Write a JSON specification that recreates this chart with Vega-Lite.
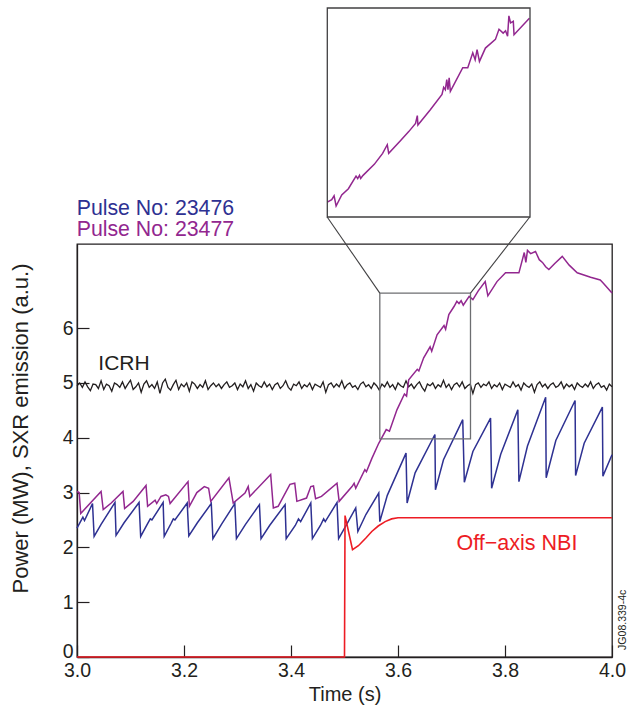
{
  "$schema": "https://vega.github.io/schema/vega-lite/v6.json",
  "width": 535,
  "height": 413,
  "autosize": {"type": "none"},
  "padding": {"left": 77, "top": 244, "right": 31, "bottom": 52},
  "config": {
    "font": "Liberation Sans",
    "view": {"stroke": "#231f20", "strokeWidth": 1.3},
    "axis": {"grid": false, "domainColor": "#231f20", "domainWidth": 1.3, "tickColor": "#231f20", "tickWidth": 1.2, "labelColor": "#231f20", "titleColor": "#231f20"}
  },
  "datasets": {
    "icrh": [
      {"t":3.000,"v":4.95},{"t":3.005,"v":5.00},{"t":3.010,"v":4.92},{"t":3.015,"v":5.02},{"t":3.020,"v":4.93},{"t":3.025,"v":4.86},{"t":3.030,"v":4.98},{"t":3.035,"v":4.97},{"t":3.040,"v":4.90},{"t":3.045,"v":5.04},
      {"t":3.050,"v":4.88},{"t":3.055,"v":4.98},{"t":3.060,"v":4.95},{"t":3.065,"v":4.85},{"t":3.070,"v":5.00},{"t":3.075,"v":4.97},{"t":3.080,"v":4.92},{"t":3.085,"v":5.02},{"t":3.090,"v":4.90},{"t":3.095,"v":4.98},
      {"t":3.100,"v":5.05},{"t":3.105,"v":4.88},{"t":3.110,"v":4.93},{"t":3.115,"v":5.00},{"t":3.120,"v":4.83},{"t":3.125,"v":4.98},{"t":3.130,"v":5.04},{"t":3.135,"v":4.92},{"t":3.140,"v":4.97},{"t":3.145,"v":4.90},
      {"t":3.150,"v":5.02},{"t":3.155,"v":4.81},{"t":3.160,"v":5.00},{"t":3.165,"v":5.07},{"t":3.170,"v":4.92},{"t":3.175,"v":4.87},{"t":3.180,"v":4.97},{"t":3.185,"v":5.05},{"t":3.190,"v":4.88},{"t":3.195,"v":4.98},
      {"t":3.200,"v":4.93},{"t":3.205,"v":5.00},{"t":3.210,"v":4.85},{"t":3.215,"v":5.02},{"t":3.220,"v":4.98},{"t":3.225,"v":4.90},{"t":3.230,"v":4.97},{"t":3.235,"v":4.92},{"t":3.240,"v":5.04},{"t":3.245,"v":4.88},
      {"t":3.250,"v":4.95},{"t":3.255,"v":5.00},{"t":3.260,"v":4.93},{"t":3.265,"v":4.98},{"t":3.270,"v":4.90},{"t":3.275,"v":4.97},{"t":3.280,"v":5.02},{"t":3.285,"v":4.92},{"t":3.290,"v":4.95},{"t":3.295,"v":5.00},
      {"t":3.300,"v":4.88},{"t":3.305,"v":4.98},{"t":3.310,"v":4.93},{"t":3.315,"v":5.04},{"t":3.320,"v":4.90},{"t":3.325,"v":4.97},{"t":3.330,"v":4.85},{"t":3.335,"v":5.00},{"t":3.340,"v":4.95},{"t":3.345,"v":4.92},
      {"t":3.350,"v":5.02},{"t":3.355,"v":4.93},{"t":3.360,"v":4.98},{"t":3.365,"v":4.88},{"t":3.370,"v":4.97},{"t":3.375,"v":5.00},{"t":3.380,"v":4.90},{"t":3.385,"v":4.95},{"t":3.390,"v":5.04},{"t":3.395,"v":4.92},
      {"t":3.400,"v":4.87},{"t":3.405,"v":4.98},{"t":3.410,"v":4.95},{"t":3.415,"v":5.02},{"t":3.420,"v":4.90},{"t":3.425,"v":4.97},{"t":3.430,"v":4.93},{"t":3.435,"v":5.00},{"t":3.440,"v":4.88},{"t":3.445,"v":4.98},
      {"t":3.450,"v":4.95},{"t":3.455,"v":4.92},{"t":3.460,"v":5.02},{"t":3.465,"v":4.83},{"t":3.470,"v":4.97},{"t":3.475,"v":5.00},{"t":3.480,"v":4.92},{"t":3.485,"v":4.98},{"t":3.490,"v":4.93},{"t":3.495,"v":5.04},
      {"t":3.500,"v":4.90},{"t":3.505,"v":4.97},{"t":3.510,"v":5.00},{"t":3.515,"v":4.92},{"t":3.520,"v":4.95},{"t":3.525,"v":4.88},{"t":3.530,"v":4.98},{"t":3.535,"v":5.02},{"t":3.540,"v":4.93},{"t":3.545,"v":4.97},
      {"t":3.550,"v":4.90},{"t":3.555,"v":5.00},{"t":3.560,"v":4.95},{"t":3.565,"v":4.87},{"t":3.570,"v":4.98},{"t":3.575,"v":4.93},{"t":3.580,"v":5.02},{"t":3.585,"v":4.92},{"t":3.590,"v":4.97},{"t":3.595,"v":4.88},
      {"t":3.600,"v":5.00},{"t":3.605,"v":4.95},{"t":3.610,"v":4.92},{"t":3.615,"v":5.04},{"t":3.620,"v":4.93},{"t":3.625,"v":4.98},{"t":3.630,"v":4.90},{"t":3.635,"v":4.97},{"t":3.640,"v":5.02},{"t":3.645,"v":4.92},
      {"t":3.650,"v":4.85},{"t":3.655,"v":4.98},{"t":3.660,"v":4.95},{"t":3.665,"v":5.00},{"t":3.670,"v":4.90},{"t":3.675,"v":4.97},{"t":3.680,"v":4.93},{"t":3.685,"v":5.05},{"t":3.690,"v":4.92},{"t":3.695,"v":4.98},
      {"t":3.700,"v":4.88},{"t":3.705,"v":4.97},{"t":3.710,"v":5.00},{"t":3.715,"v":4.93},{"t":3.720,"v":5.02},{"t":3.725,"v":4.90},{"t":3.730,"v":4.95},{"t":3.735,"v":4.98},{"t":3.740,"v":4.81},{"t":3.745,"v":4.97},
      {"t":3.750,"v":5.00},{"t":3.755,"v":4.92},{"t":3.760,"v":4.98},{"t":3.765,"v":4.95},{"t":3.770,"v":5.02},{"t":3.775,"v":4.90},{"t":3.780,"v":4.97},{"t":3.785,"v":4.93},{"t":3.790,"v":5.00},{"t":3.795,"v":4.88},
      {"t":3.800,"v":4.98},{"t":3.805,"v":4.95},{"t":3.810,"v":4.92},{"t":3.815,"v":5.02},{"t":3.820,"v":4.93},{"t":3.825,"v":4.97},{"t":3.830,"v":4.87},{"t":3.835,"v":5.00},{"t":3.840,"v":4.95},{"t":3.845,"v":4.92},
      {"t":3.850,"v":4.98},{"t":3.855,"v":4.83},{"t":3.860,"v":4.97},{"t":3.865,"v":5.02},{"t":3.870,"v":4.93},{"t":3.875,"v":4.98},{"t":3.880,"v":4.90},{"t":3.885,"v":4.97},{"t":3.890,"v":5.00},{"t":3.895,"v":4.92},
      {"t":3.900,"v":4.95},{"t":3.905,"v":5.02},{"t":3.910,"v":4.90},{"t":3.915,"v":4.98},{"t":3.920,"v":4.93},{"t":3.925,"v":4.97},{"t":3.930,"v":4.88},{"t":3.935,"v":5.00},{"t":3.940,"v":4.95},{"t":3.945,"v":4.92},
      {"t":3.950,"v":4.98},{"t":3.955,"v":4.93},{"t":3.960,"v":5.02},{"t":3.965,"v":4.90},{"t":3.970,"v":4.97},{"t":3.975,"v":5.00},{"t":3.980,"v":4.92},{"t":3.985,"v":4.95},{"t":3.990,"v":4.87},{"t":3.995,"v":4.98},
      {"t":4.000,"v":4.93}
    ],
    "nbi": [
      {"t":3.0,"v":0},{"t":3.5,"v":0},{"t":3.501,"v":2.58},{"t":3.515,"v":1.96},{"t":3.526,"v":2.03},{"t":3.54,"v":2.17},{"t":3.551,"v":2.29},{"t":3.563,"v":2.39},{"t":3.576,"v":2.47},{"t":3.588,"v":2.52},{"t":3.60,"v":2.54},{"t":4.0,"v":2.54}
    ],
    "p23476": [
      {"t":3.000,"v":2.35},{"t":3.011,"v":2.55},{"t":3.014,"v":2.49},{"t":3.029,"v":2.80},{"t":3.032,"v":2.20},{"t":3.045,"v":2.42},{"t":3.071,"v":2.82},{"t":3.073,"v":2.22},{"t":3.088,"v":2.45},{"t":3.116,"v":2.82},
      {"t":3.119,"v":2.20},{"t":3.133,"v":2.45},{"t":3.137,"v":2.52},{"t":3.140,"v":2.50},{"t":3.161,"v":2.82},{"t":3.163,"v":2.20},{"t":3.176,"v":2.44},{"t":3.180,"v":2.52},{"t":3.183,"v":2.50},{"t":3.206,"v":2.81},
      {"t":3.209,"v":2.21},{"t":3.225,"v":2.45},{"t":3.251,"v":2.80},{"t":3.254,"v":2.16},{"t":3.270,"v":2.42},{"t":3.295,"v":2.80},{"t":3.298,"v":2.16},{"t":3.315,"v":2.42},{"t":3.341,"v":2.78},{"t":3.344,"v":2.16},
      {"t":3.360,"v":2.40},{"t":3.389,"v":2.78},{"t":3.391,"v":2.16},{"t":3.408,"v":2.40},{"t":3.414,"v":2.52},{"t":3.418,"v":2.47},{"t":3.437,"v":2.81},{"t":3.440,"v":2.16},{"t":3.455,"v":2.40},{"t":3.461,"v":2.52},
      {"t":3.464,"v":2.47},{"t":3.486,"v":2.82},{"t":3.489,"v":2.16},{"t":3.503,"v":2.40},{"t":3.521,"v":2.72},{"t":3.525,"v":2.29},{"t":3.540,"v":2.60},{"t":3.564,"v":2.99},{"t":3.566,"v":2.47},{"t":3.580,"v":2.95},
      {"t":3.615,"v":3.72},{"t":3.617,"v":2.81},{"t":3.632,"v":3.36},{"t":3.669,"v":4.06},{"t":3.670,"v":3.05},{"t":3.685,"v":3.60},{"t":3.721,"v":4.33},{"t":3.724,"v":3.19},{"t":3.740,"v":3.75},{"t":3.773,"v":4.36},
      {"t":3.775,"v":3.08},{"t":3.792,"v":3.70},{"t":3.824,"v":4.51},{"t":3.826,"v":3.20},{"t":3.842,"v":3.85},{"t":3.876,"v":4.74},{"t":3.877,"v":3.27},{"t":3.895,"v":3.95},{"t":3.931,"v":4.68},{"t":3.932,"v":3.31},
      {"t":3.948,"v":3.90},{"t":3.982,"v":4.56},{"t":3.983,"v":3.30},{"t":4.000,"v":3.69}
    ],
    "p23477": [
      {"t":3.000,"v":3.02},{"t":3.004,"v":3.00},{"t":3.007,"v":2.62},{"t":3.045,"v":3.02},{"t":3.049,"v":2.69},{"t":3.064,"v":2.81},{"t":3.086,"v":3.02},{"t":3.089,"v":2.71},{"t":3.105,"v":2.84},{"t":3.129,"v":3.13},
      {"t":3.132,"v":2.75},{"t":3.146,"v":2.86},{"t":3.149,"v":2.80},{"t":3.157,"v":2.93},{"t":3.166,"v":2.96},{"t":3.171,"v":2.93},{"t":3.174,"v":2.80},{"t":3.2075,"v":3.20},{"t":3.210,"v":2.75},{"t":3.224,"v":3.00},
      {"t":3.238,"v":3.11},{"t":3.246,"v":3.08},{"t":3.250,"v":2.84},{"t":3.284,"v":3.27},{"t":3.292,"v":2.81},{"t":3.314,"v":2.99},{"t":3.320,"v":3.11},{"t":3.323,"v":2.93},{"t":3.362,"v":3.33},{"t":3.367,"v":2.72},
      {"t":3.376,"v":2.75},{"t":3.398,"v":3.15},{"t":3.407,"v":3.17},{"t":3.411,"v":2.84},{"t":3.429,"v":2.90},{"t":3.437,"v":3.11},{"t":3.442,"v":3.12},{"t":3.446,"v":2.89},{"t":3.457,"v":2.93},{"t":3.486,"v":3.17},
      {"t":3.490,"v":2.84},{"t":3.514,"v":3.11},{"t":3.518,"v":3.17},{"t":3.521,"v":3.08},{"t":3.538,"v":3.42},{"t":3.541,"v":3.38},{"t":3.551,"v":3.62},{"t":3.564,"v":3.90},{"t":3.578,"v":4.15},{"t":3.584,"v":4.12},
      {"t":3.598,"v":4.51},{"t":3.612,"v":4.80},{"t":3.616,"v":4.76},{"t":3.620,"v":5.06},{"t":3.636,"v":5.25},{"t":3.639,"v":5.22},{"t":3.648,"v":5.46},{"t":3.660,"v":5.66},{"t":3.663,"v":5.58},{"t":3.673,"v":5.88},
      {"t":3.686,"v":6.05},{"t":3.689,"v":5.98},{"t":3.695,"v":6.25},{"t":3.705,"v":6.40},{"t":3.710,"v":6.49},{"t":3.714,"v":6.45},{"t":3.718,"v":6.50},{"t":3.722,"v":6.42},{"t":3.733,"v":6.58},{"t":3.740,"v":6.52},
      {"t":3.750,"v":6.68},{"t":3.763,"v":6.85},{"t":3.768,"v":6.59},{"t":3.785,"v":6.85},{"t":3.801,"v":7.01},{"t":3.826,"v":7.01},{"t":3.836,"v":7.38},{"t":3.839,"v":7.20},{"t":3.842,"v":7.42},{"t":3.848,"v":7.36},
      {"t":3.857,"v":7.40},{"t":3.864,"v":7.25},{"t":3.870,"v":7.20},{"t":3.876,"v":7.12},{"t":3.882,"v":7.07},{"t":3.893,"v":7.18},{"t":3.907,"v":7.31},{"t":3.920,"v":7.15},{"t":3.935,"v":7.01},{"t":3.960,"v":6.93},
      {"t":3.978,"v":6.88},{"t":3.983,"v":6.83},{"t":4.000,"v":6.64}
    ],
    "inset": [
      {"t":3.5640,"v":4.17},{"t":3.5677,"v":4.20},{"t":3.5697,"v":4.25},{"t":3.5714,"v":4.12},{"t":3.5761,"v":4.26},{"t":3.5817,"v":4.34},{"t":3.5881,"v":4.50},{"t":3.5895,"v":4.47},{"t":3.5910,"v":4.51},{"t":3.5920,"v":4.47},
      {"t":3.5940,"v":4.51},{"t":3.6034,"v":4.65},{"t":3.6104,"v":4.79},{"t":3.6143,"v":4.90},{"t":3.6155,"v":4.79},{"t":3.6255,"v":4.955},{"t":3.6325,"v":5.07},{"t":3.6380,"v":5.17},{"t":3.6395,"v":5.27},{"t":3.6400,"v":5.15},
      {"t":3.6504,"v":5.345},{"t":3.6602,"v":5.54},{"t":3.6616,"v":5.63},{"t":3.6630,"v":5.60},{"t":3.6642,"v":5.73},{"t":3.6652,"v":5.60},{"t":3.6662,"v":5.75},{"t":3.6672,"v":5.58},{"t":3.6776,"v":5.88},{"t":3.6818,"v":5.88},
      {"t":3.6860,"v":6.07},{"t":3.6880,"v":5.98},{"t":3.6896,"v":6.11},{"t":3.6916,"v":5.96},{"t":3.6966,"v":6.13},{"t":3.7050,"v":6.24},{"t":3.7080,"v":6.37},{"t":3.7115,"v":6.32},{"t":3.7135,"v":6.35},{"t":3.7152,"v":6.28},
      {"t":3.7163,"v":6.54},{"t":3.7177,"v":6.45},{"t":3.7200,"v":6.47},{"t":3.7206,"v":6.30},{"t":3.7335,"v":6.51}
    ]
  },
  "layer": [
    {
      "layer": [
        {
          "data": {"name": "icrh"},
          "mark": {"type": "line", "color": "#231f20", "strokeWidth": 1.3},
          "encoding": {
            "x": {"field": "t", "type": "quantitative",
              "scale": {"domain": [3, 4], "nice": false, "zero": false},
              "axis": {"values": [3, 3.2, 3.4, 3.6, 3.8, 4], "format": ".1f", "tickSize": -12, "labelPadding": 16, "labelFontSize": 19.5, "labelFlush": false, "labelOverlap": false,
                "title": "Time (s)", "titleFontSize": 20, "titleFontWeight": "normal", "titlePadding": 5}},
            "y": {"field": "v", "type": "quantitative",
              "scale": {"domain": [0, 7.536], "nice": false, "zero": false},
              "axis": {"values": [0, 1, 2, 3, 4, 5, 6], "format": "d", "tickSize": -12, "labelPadding": 16, "labelFontSize": 19.5, "labelOverlap": false, "labelFlush": false,
                "labelBaseline": {"condition": {"test": "datum.value == 0", "value": "alphabetic"}, "value": "middle"},
                "title": "Power (MW), SXR emission (a.u.)", "titleFontSize": 22, "titleFontWeight": "normal", "titleX": -45, "titleY": 184}}
          }
        },
        {
          "data": {"name": "p23477"},
          "mark": {"type": "line", "color": "#92278f", "strokeWidth": 1.5},
          "encoding": {"x": {"field": "t", "type": "quantitative"}, "y": {"field": "v", "type": "quantitative"}}
        },
        {
          "data": {"name": "p23476"},
          "mark": {"type": "line", "color": "#2e3192", "strokeWidth": 1.5},
          "encoding": {"x": {"field": "t", "type": "quantitative"}, "y": {"field": "v", "type": "quantitative"}}
        },
        {
          "data": {"name": "nbi"},
          "mark": {"type": "line", "color": "#ed1c24", "strokeWidth": 1.6},
          "encoding": {"x": {"field": "t", "type": "quantitative"}, "y": {"field": "v", "type": "quantitative"}}
        },
        {
          "data": {"values": [{}]},
          "mark": {"type": "rect", "fillOpacity": 0, "stroke": "#6d6e71", "strokeWidth": 1.3},
          "encoding": {"x": {"datum": 3.566}, "x2": {"datum": 3.7355}, "y": {"datum": 3.98}, "y2": {"datum": 6.64}}
        },
        {
          "data": {"values": [{}]},
          "mark": {"type": "rule", "color": "#414042", "strokeWidth": 1.1},
          "encoding": {"x": {"datum": 3.566}, "y": {"datum": 6.64}, "x2": {"datum": 3.4676}, "y2": {"datum": 8.029}}
        },
        {
          "data": {"values": [{}]},
          "mark": {"type": "rule", "color": "#414042", "strokeWidth": 1.1},
          "encoding": {"x": {"datum": 3.7355}, "y": {"datum": 6.64}, "x2": {"datum": 3.8463}, "y2": {"datum": 8.029}}
        },
        {
          "data": {"values": [{}]},
          "mark": {"type": "text", "text": "Pulse No: 23476", "fontSize": 21.3, "align": "left", "baseline": "alphabetic", "color": "#2e3192"},
          "encoding": {"x": {"datum": 2.9994}, "y": {"datum": 8.071}}
        },
        {
          "data": {"values": [{}]},
          "mark": {"type": "text", "text": "Pulse No: 23477", "fontSize": 21.3, "align": "left", "baseline": "alphabetic", "color": "#92278f"},
          "encoding": {"x": {"datum": 2.9994}, "y": {"datum": 7.675}}
        },
        {
          "data": {"values": [{}]},
          "mark": {"type": "text", "text": "ICRH", "fontSize": 21, "align": "left", "baseline": "alphabetic", "color": "#231f20"},
          "encoding": {"x": {"datum": 3.0398}, "y": {"datum": 5.24}}
        },
        {
          "data": {"values": [{}]},
          "mark": {"type": "text", "text": "Off\u2212axis NBI", "fontSize": 21.5, "align": "left", "baseline": "alphabetic", "color": "#ed1c24"},
          "encoding": {"x": {"datum": 3.7093}, "y": {"datum": 1.96}}
        },
        {
          "data": {"values": [{}]},
          "mark": {"type": "text", "text": "JG08.339-4c", "fontSize": 10.5, "align": "left", "baseline": "alphabetic", "angle": 270, "color": "#231f20"},
          "encoding": {"x": {"datum": 4.027}, "y": {"datum": 0.13}}
        }
      ]
    },
    {
      "layer": [
        {
          "data": {"name": "inset"},
          "mark": {"type": "line", "color": "#92278f", "strokeWidth": 1.5},
          "encoding": {
            "x": {"field": "t", "type": "quantitative", "axis": null,
              "scale": {"domain": [3.564, 3.734], "range": [250.3, 453], "nice": false, "zero": false}},
            "y": {"field": "v", "type": "quantitative", "axis": null,
              "scale": {"domain": [3.98, 6.64], "range": [-27, -236], "nice": false, "zero": false}}
          }
        },
        {
          "data": {"values": [{}]},
          "mark": {"type": "rect", "fillOpacity": 0, "stroke": "#414042", "strokeWidth": 1.3},
          "encoding": {"x": {"datum": 3.564}, "x2": {"datum": 3.734}, "y": {"datum": 3.98}, "y2": {"datum": 6.64}}
        }
      ]
    }
  ],
  "resolve": {"scale": {"x": "independent", "y": "independent"}}
}
